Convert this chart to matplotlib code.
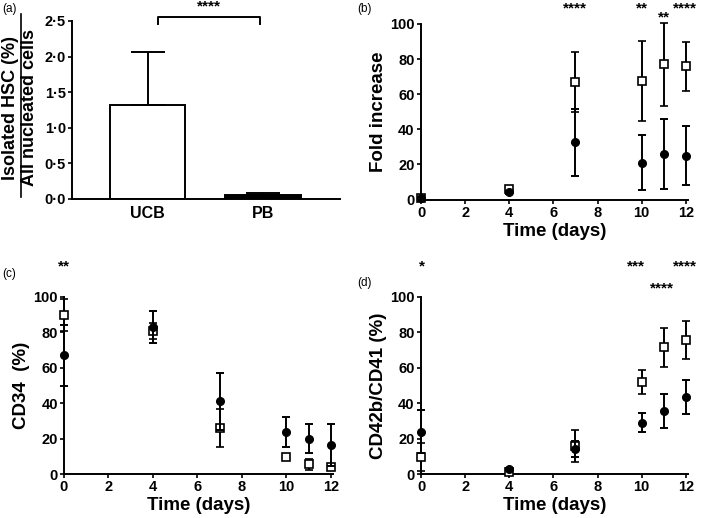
import matplotlib
matplotlib.use('Agg')
import matplotlib.pyplot as plt
import matplotlib.ticker as mticker
from matplotlib.lines import Line2D

plt.rcParams.update({
    'font.family': ['Liberation Sans', 'DejaVu Sans'],
    'font.weight': 'bold',
    'axes.labelweight': 'bold',
    'font.size': 10,
    'axes.linewidth': 1.4,
    'xtick.direction': 'out',
    'ytick.direction': 'out',
    'xtick.major.size': 3,
    'ytick.major.size': 3,
    'xtick.major.width': 1.2,
    'ytick.major.width': 1.2,
})

# ── Data ──────────────────────────────────────────────────────────────────────
sources = ['UCB', 'PB']
hsc_pct = [1.32, 0.05]
hsc_err = [0.74, 0.03]

days = [0, 4, 7, 10, 11, 12]

fold_sq = [1, 6, 67, 67.5, 77, 76]
fold_sq_err = [0.5, 1, 17, 23, 23.5, 14]
fold_ci = [1, 4, 32.5, 21, 26, 25]
fold_ci_err = [0.5, 1, 19, 15.5, 20, 17]

cd34_sq = [90, 81, 26, 9.4, 5.5, 3.8]
cd34_sq_err = [9, 4.5, 11, 1, 3, 1]
cd34_ci = [67, 83, 41, 23.5, 20, 16.5]
cd34_ci_err = [17, 9, 16, 8.5, 8, 12]

cd42_sq = [9.6, 1, 16, 52, 71.5, 75.7]
cd42_sq_err = [8, 0.5, 9, 7, 11, 11]
cd42_ci = [24, 3, 14, 29, 35.7, 43.5]
cd42_ci_err = [12, 0.5, 4.5, 5.5, 9.5, 9.5]

# star labels: (day, value, text)
fold_stars = [(7, 109, '****'), (10, 109, '**'), (11, 103.5, '**'), (11.95, 109, '****')]
cd34_stars = [(0, 117, '**')]
cd42_stars = [(0.05, 117, '*'), (9.75, 117, '***'), (10.9, 105, '****'), (11.95, 117, '****')]

W, H = 709, 518
fig = plt.figure(figsize=(W / 100, H / 100), dpi=100)


def box(x0, x1, ytop, ybot):
    return [x0 / W, 1 - ybot / H, (x1 - x0) / W, (ybot - ytop) / H]


def bold_ticks(ax):
    for lab in ax.get_xticklabels() + ax.get_yticklabels():
        lab.set_fontweight('bold')


def time_panel(ax, sq, sq_err, ci, ci_err, ylabel, stars):
    kw = dict(linestyle='none', ecolor='black', elinewidth=1.4,
              capsize=3.2, capthick=1.4, clip_on=False)
    e1 = ax.errorbar(days, sq, yerr=sq_err, marker='s', ms=5.5, mfc='white',
                     mec='black', mew=1.2, zorder=3, **kw)
    e2 = ax.errorbar(days, ci, yerr=ci_err, marker='o', ms=5.5, mfc='black',
                     mec='black', zorder=4, **kw)
    for e in (e1, e2):
        for art in e.lines[1] + e.lines[2]:
            art.set_clip_on(False)
    ax.set_xlim(0, 12.1)
    ax.set_ylim(0, 100)
    ax.set_xticks(range(0, 13, 2))
    ax.set_yticks(range(0, 101, 20))
    ax.spines['top'].set_visible(False)
    ax.spines['right'].set_visible(False)
    ax.tick_params(labelsize=10.5, pad=1.5)
    bold_ticks(ax)
    ax.set_xlabel('Time (days)', fontsize=13.5, labelpad=2)
    ax.set_ylabel(ylabel, fontsize=13.5, labelpad=2)
    for x, y, s in stars:
        ax.text(x, y, s, ha='center', va='center', fontsize=11,
                fontweight='bold', clip_on=False)


# (a) bar chart
ax_a = fig.add_axes(box(72, 340, 21, 199))
ax_a.bar([0, 1], hsc_pct, width=0.65, color=['white', 'black'],
         edgecolor='black', linewidth=1.4)
ax_a.errorbar([0, 1], hsc_pct, yerr=[[0, 0], hsc_err], linestyle='none',
              ecolor='black', elinewidth=1.4, capsize=12, capthick=1.4)
ax_a.set_xlim(-0.654, 1.667)
ax_a.set_ylim(0, 2.5)
ax_a.set_xticks([0, 1])
ax_a.set_xticklabels(sources, fontsize=11.5)
ax_a.tick_params(axis='x', length=0, pad=5)
ax_a.tick_params(axis='y', labelsize=10.5, pad=1.5)
ax_a.yaxis.set_major_formatter(mticker.FuncFormatter(lambda v, _: f'{v:.1f}'.replace('.', '·')))
bold_ticks(ax_a)
ax_a.spines['top'].set_visible(False)
ax_a.spines['right'].set_visible(False)
# significance bracket
ax_a.plot([0.09, 0.09, 0.97, 0.97], [2.46, 2.555, 2.555, 2.46], color='black',
          lw=1.4, clip_on=False)
ax_a.text(0.53, 2.6, '****', ha='center', va='bottom', fontsize=11,
          fontweight='bold', clip_on=False)
# fraction-style y label
fig.text(11 / W, 1 - 108 / H, 'Isolated HSC (%)', rotation=90, ha='center',
         va='center', fontsize=13)
fig.text(30 / W, 1 - 108 / H, 'All nucleated cells', rotation=90, ha='center',
         va='center', fontsize=13)
fig.add_artist(Line2D([20.5 / W, 20.5 / W], [1 - 197 / H, 1 - 14 / H], color='black',
                      lw=1.2, transform=fig.transFigure))

# (b) fold increase
ax_b = fig.add_axes(box(421, 688, 24, 199.5))
time_panel(ax_b, fold_sq, fold_sq_err, fold_ci, fold_ci_err, 'Fold increase', fold_stars)

# (c) CD34
ax_c = fig.add_axes(box(64, 333, 297, 474))
time_panel(ax_c, cd34_sq, cd34_sq_err, cd34_ci, cd34_ci_err, 'CD34  (%)', cd34_stars)

# (d) CD42b/CD41
ax_d = fig.add_axes(box(421, 688, 297, 474))
time_panel(ax_d, cd42_sq, cd42_sq_err, cd42_ci, cd42_ci_err, 'CD42b/CD41 (%)', cd42_stars)

# panel letters
for x, y, s in [(2, 9, '(a)'), (357, 9, '(b)'), (2, 274, '(c)'), (357, 283, '(d)')]:
    fig.text(x / W, 1 - y / H, s, ha='left', va='center', fontsize=8.5,
             fontweight='normal')

fig.savefig('out.png', dpi=100)
